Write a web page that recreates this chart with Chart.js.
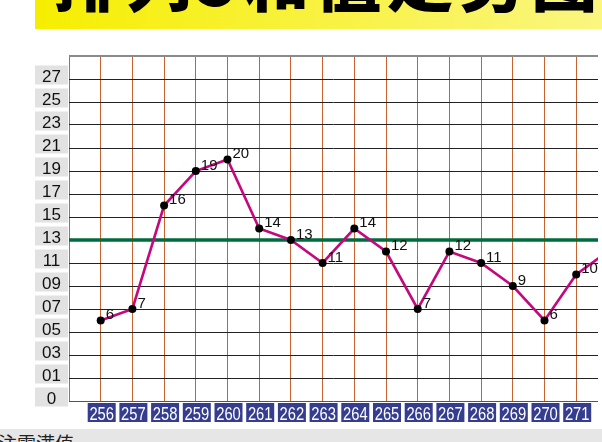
<!DOCTYPE html>
<html>
<head>
<meta charset="utf-8">
<script src="https://cdn.jsdelivr.net/npm/chart.js@4/dist/chart.umd.min.js"></script>
<style>
  html, body { margin:0; padding:0; background:#fff; }
  #wrap { position:relative; width:602px; height:442px; overflow:hidden; }
  #title { position:absolute; left:35px; top:0; width:567px; height:29px; overflow:hidden;
           background:linear-gradient(to right, #f6ee00, #faf680); }
  #title span { position:absolute; left:18px; top:-56px; font-family:"Noto Sans CJK SC"; font-weight:900;
           font-size:66px; line-height:66px; letter-spacing:6px; color:#000; white-space:nowrap; }
  #note { position:absolute; left:0; top:429px; width:602px; height:13px; overflow:hidden; background:#e6e6e6; }
  #note span { position:absolute; left:-2px; top:1px; font-family:"Noto Sans CJK JP"; font-size:19px; line-height:26px; color:#222; white-space:nowrap; }
  canvas { position:absolute; left:0; top:0; }
</style>
</head>
<body>
<div id="wrap">
  <div id="title"><span>排列5和值走势图</span></div>
  <canvas id="c" width="602" height="442"></canvas>
  <div id="note"><span>注需满值</span></div>
</div>
<script>
// ---- data ----
const periods = [256, 257, 258, 259, 260, 261, 262, 263, 264, 265, 266, 267, 268, 269, 270, 271, 272];
const sums    = [6, 7, 16, 19, 20, 14, 13, 11, 14, 12, 7, 12, 11, 9, 6, 10, 12];
const averageSum = 13;
const yTickValues = [-1, 1, 3, 5, 7, 9, 11, 13, 15, 17, 19, 21, 23, 25, 27, 29];
const yTickLabels = ['0', '01', '03', '05', '07', '09', '11', '13', '15', '17', '19', '21', '23', '25', '27', ''];
const xTickValues = [255, 256, 257, 258, 259, 260, 261, 262, 263, 264, 265, 266, 267, 268, 269, 270, 271];
const xTickLabels = ['', '256', '257', '258', '259', '260', '261', '262', '263', '264', '265', '266', '267', '268', '269', '270', '271'];

const points = periods.map((p, i) => ({ x: p, y: sums[i] }));

const labelPlugin = {
  id: 'labels',
  afterDatasetsDraw(chart) {
    const ctx = chart.ctx;
    const meta = chart.getDatasetMeta(0);
    ctx.save();
    ctx.fillStyle = '#111';
    ctx.font = '15px "Liberation Sans", Arial, sans-serif';
    ctx.textAlign = 'left';
    ctx.textBaseline = 'alphabetic';
    meta.data.forEach((pt, i) => {
      ctx.fillText(String(sums[i]), pt.x + 5, pt.y - 1.5);
    });
    ctx.restore();
  },
  afterDraw(chart) {
    const ctx = chart.ctx;
    const ys = chart.scales.y, xs = chart.scales.x;
    ctx.save();
    ctx.font = '17px "Liberation Sans", Arial, sans-serif';
    ctx.textAlign = 'center';
    ctx.textBaseline = 'alphabetic';
    yTickValues.forEach((v, i) => {
      const lab = yTickLabels[i];
      if (!lab) return;
      const py = ys.getPixelForValue(v);
      ctx.fillStyle = '#e2e2e2';
      ctx.fillRect(35, py - 13.5, 33, 19);
      ctx.fillStyle = '#111';
      ctx.fillText(lab, 51.5, py + 3);
    });
    xTickValues.forEach((v, i) => {
      const lab = xTickLabels[i];
      if (!lab) return;
      const px = xs.getPixelForValue(v) + 1;
      ctx.fillStyle = '#353d8f';
      ctx.fillRect(px - 14, 403, 28, 19);
      ctx.save();
      ctx.translate(px, 419.5);
      ctx.scale(0.82, 1);
      ctx.fillStyle = '#fff';
      ctx.font = '18px "Liberation Sans", Arial, sans-serif';
      ctx.fillText(lab, 0, 0);
      ctx.restore();
    });
    ctx.restore();
  }
};

new Chart(document.getElementById('c'), {
  type: 'line',
  data: {
    datasets: [
      {
        data: points,
        borderColor: '#c4087e',
        borderWidth: 2.6,
        pointRadius: 4,
        pointBackgroundColor: '#000',
        pointBorderWidth: 0,
        tension: 0
      },
      {
        data: [{ x: 255, y: averageSum }, { x: 273, y: averageSum }],
        borderColor: '#006b3c',
        borderWidth: 3.5,
        pointRadius: 0,
        tension: 0
      }
    ]
  },
  plugins: [labelPlugin],
  options: {
    responsive: false,
    animation: false,
    layout: { padding: { left: 69, top: 56, right: 0, bottom: 41 } },
    plugins: { legend: { display: false }, tooltip: { enabled: false } },
    scales: {
      x: {
        type: 'linear',
        min: 255,
        max: 255 + 533 / 31.94,
        afterBuildTicks: s => { s.ticks = xTickValues.map(v => ({ value: v })); },
        afterFit: s => { s.height = 0; },
        ticks: { display: false },
        border: { display: false },
        grid: { color: '#c9622e', lineWidth: 1, drawTicks: false }
      },
      y: {
        type: 'linear',
        min: -1,
        max: 29,
        afterBuildTicks: s => { s.ticks = yTickValues.map(v => ({ value: v })); },
        afterFit: s => { s.width = 0; },
        ticks: { display: false },
        border: { display: false },
        grid: {
          drawTicks: false,
          color: c => c.tick.value === 29 ? '#8a8a8a' : (c.tick.value === -1 ? '#555' : '#222'),
          lineWidth: c => c.tick.value === 29 ? 2 : 1
        }
      }
    }
  }
});
</script>
</body>
</html>
